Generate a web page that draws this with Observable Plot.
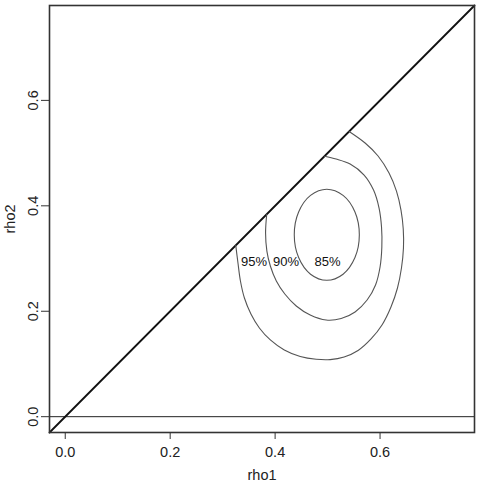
<!DOCTYPE html>
<html>
<head>
<meta charset="utf-8">
<script src="https://cdn.jsdelivr.net/npm/d3@7"></script>
<script src="https://cdn.jsdelivr.net/npm/@observablehq/plot@0.6"></script>
<style>
  html, body { margin: 0; padding: 0; background: #fff; }
  #chart svg { font-family: "Liberation Sans", Arial, sans-serif; }
</style>
</head>
<body>
<div id="chart"></div>
<script>
// axis setup
const xDomain = [-0.03, 0.78];
const yDomain = [-0.03, 0.78];
const tickValues = [0.0, 0.2, 0.4, 0.6];

// reference lines: diagonal rho2 = rho1 and horizontal rho2 = 0
const diagonal = [-0.03, 0.78];
const hLine = [0];

// contour curves: [rho1, rho2]
const contour95 = [
  [0.325, 0.325], [0.3292, 0.2915], [0.3339, 0.2574], [0.3415, 0.2251],
  [0.3539, 0.1948], [0.3700, 0.1683], [0.3909, 0.1456], [0.4175, 0.1266],
  [0.4479, 0.1142], [0.4783, 0.1089], [0.5049, 0.1083], [0.5315, 0.1132],
  [0.5581, 0.1255], [0.5828, 0.1474], [0.6037, 0.1739], [0.6208, 0.2080],
  [0.6332, 0.2441], [0.6408, 0.2820], [0.6446, 0.3199], [0.6442, 0.3560],
  [0.6399, 0.3920], [0.6313, 0.4280], [0.6171, 0.4622], [0.5962, 0.4945],
  [0.5715, 0.5191], [0.541, 0.541]
];
const contour90 = [
  [0.384, 0.384], [0.3818, 0.3484], [0.3843, 0.3142], [0.3909, 0.2858],
  [0.4023, 0.2574], [0.4185, 0.2327], [0.4403, 0.2100], [0.4669, 0.1929],
  [0.4973, 0.1834], [0.5259, 0.1862], [0.5524, 0.1986], [0.5753, 0.2213],
  [0.5914, 0.2498], [0.6000, 0.2839], [0.6034, 0.3218], [0.6028, 0.3598],
  [0.5981, 0.3958], [0.5876, 0.4299], [0.5696, 0.4584], [0.5430, 0.4792],
  [0.5163, 0.4887], [0.494, 0.494]
];
const contour85 = [
  [0.5605, 0.3450], [0.5522, 0.3882], [0.5295, 0.4197], [0.4985, 0.4313],
  [0.4675, 0.4197], [0.4448, 0.3882], [0.4365, 0.3450], [0.4448, 0.3018],
  [0.4675, 0.2703], [0.4985, 0.2587], [0.5295, 0.2703], [0.5522, 0.3018]
];

// contour labels
const labelText = ["95%", "90%", "85%"];
const labelX = [0.360, 0.421, 0.500];
const labelY = [0.294, 0.294, 0.294];
const labels = labelText.map((t, i) => ({t, x: labelX[i], y: labelY[i]}));

const lineColor = "#555";

const chart = Plot.plot({
  width: 478,
  height: 482,
  marginLeft: 49,
  marginRight: 4,
  marginTop: 5,
  marginBottom: 50,
  style: {fontFamily: "Liberation Sans, Arial, sans-serif", background: "#fff", color: "#222"},
  x: {domain: xDomain},
  y: {domain: yDomain},
  marks: [
    Plot.ruleY(hLine, {stroke: "#222", strokeWidth: 1}),
    Plot.line(diagonal, {x: d => d, y: d => d, stroke: "#111", strokeWidth: 1.8}),
    Plot.line(contour95, {x: d => d[0], y: d => d[1], stroke: lineColor, strokeWidth: 1.1, curve: "catmull-rom"}),
    Plot.line(contour90, {x: d => d[0], y: d => d[1], stroke: lineColor, strokeWidth: 1.1, curve: "catmull-rom"}),
    Plot.line(contour85, {x: d => d[0], y: d => d[1], stroke: lineColor, strokeWidth: 1.1, curve: "catmull-rom-closed"}),
    Plot.text(labels, {x: "x", y: "y", text: "t", fontSize: 13, fill: "#111"}),
    Plot.axisX({
      ticks: tickValues, tickFormat: d => d.toFixed(1), tickSize: 7, tickPadding: 7,
      fontSize: 14.5, stroke: "#333", fill: "#222",
      label: "rho1", labelAnchor: "center", labelArrow: "none", labelOffset: 47
    }),
    Plot.axisY({
      ticks: tickValues, tickFormat: d => d.toFixed(1), tickSize: 8, tickPadding: 4, tickRotate: -90,
      fontSize: 14.5, stroke: "#333", fill: "#222",
      label: "rho2", labelAnchor: "center", labelArrow: "none", labelOffset: 45
    }),
    Plot.frame({stroke: "#333", strokeWidth: 1.6})
  ]
});
document.getElementById("chart").appendChild(chart);
</script>
</body>
</html>
